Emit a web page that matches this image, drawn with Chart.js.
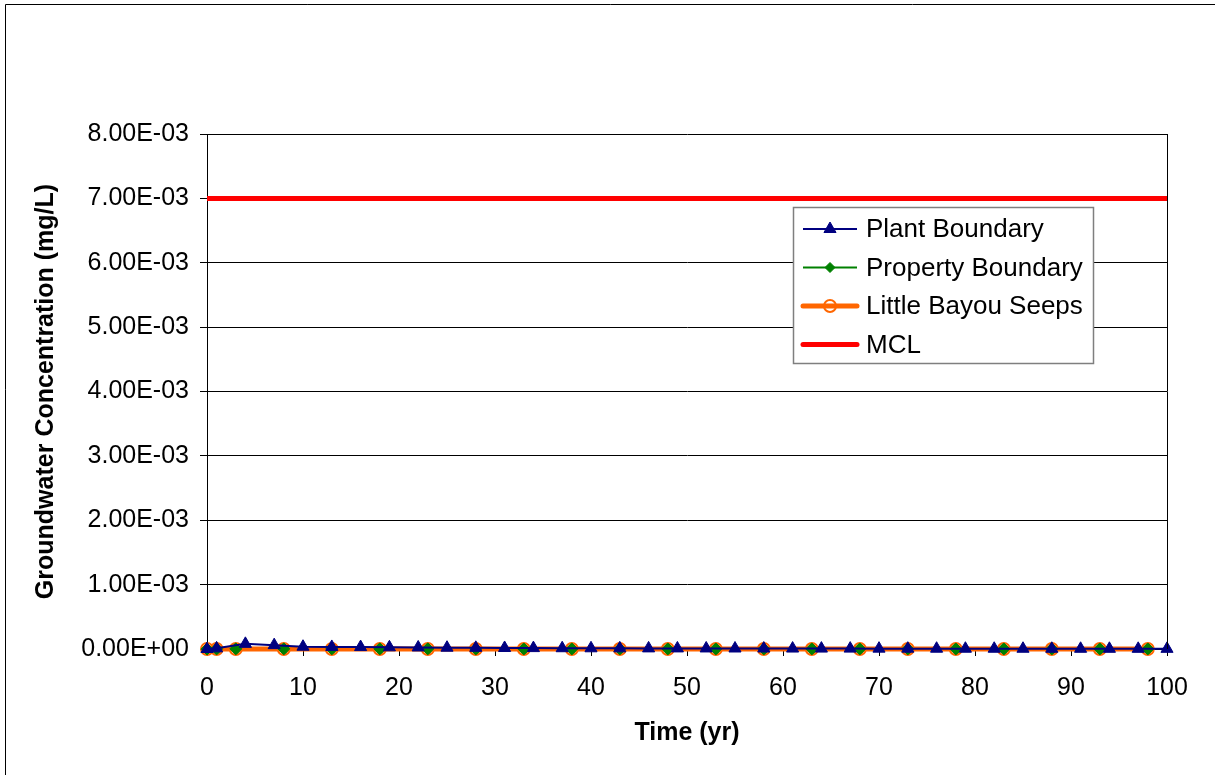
<!DOCTYPE html>
<html>
<head>
<meta charset="utf-8">
<script src="https://cdn.jsdelivr.net/npm/chart.js@4.4.0/dist/chart.umd.min.js"></script>
<style>
  body { margin: 0; background: #fff; }
  #wrap { position: relative; width: 1215px; height: 775px; }
</style>
</head>
<body>
<div id="wrap"><canvas id="chart"></canvas></div>
<script>
// data
const plantYears = [0, 1, 4, 7, 10, 13, 16, 19, 22, 25, 28, 31, 34, 37, 40, 43, 46, 49, 52, 55,
  58, 61, 64, 67, 70, 73, 76, 79, 82, 85, 88, 91, 94, 97, 100];
const plantValues = [0, 1.0e-5, 8.0e-5, 6.0e-5, 3.5e-5, 3.2e-5, 3.0e-5, 2.6e-5, 2.4e-5, 2.0e-5,
  1.8e-5, 1.6e-5, 1.4e-5, 1.2e-5, 1.1e-5, 1.0e-5, 9.5e-6, 9.0e-6, 8.5e-6, 8.0e-6,
  7.5e-6, 7.0e-6, 6.5e-6, 6.0e-6, 5.5e-6, 5.0e-6, 4.5e-6, 4.2e-6, 4.0e-6, 3.8e-6,
  3.5e-6, 3.2e-6, 3.0e-6, 2.8e-6, 2.5e-6];

const seepYears = [0, 1, 3, 8, 13, 18, 23, 28, 33, 38, 43, 48, 53, 58, 63, 68, 73, 78, 83, 88, 93, 98];
const propertyValues = [0, 1e-6, 2e-6, 2e-6, 2e-6, 2e-6, 2e-6, 1e-6, 1e-6, 1e-6, 1e-6,
  1e-6, 1e-6, 1e-6, 1e-6, 1e-6, 1e-6, 1e-6, 1e-6, 1e-6, 1e-6, 1e-6];
const seepValues = [0, 0, 1e-6, 1e-6, 1e-6, 1e-6, 1e-6, 1e-6, 1e-6, 1e-6, 1e-6,
  1e-6, 1e-6, 1e-6, 1e-6, 1e-6, 1e-6, 1e-6, 1e-6, 1e-6, 1e-6, 1e-6];

const mclYears = [0, 100];
const mclValues = [0.007, 0.007];

const yTicks = [0, 0.001, 0.002, 0.003, 0.004, 0.005, 0.006, 0.007, 0.008];

const FONT = "'Liberation Sans', Arial, sans-serif";

function pts(xs, ys) {
  return xs.map((x, i) => ({ x: x, y: ys[i] }));
}

// 8.00E-03 style labels
function sci(v) {
  if (Math.abs(v) < 1e-12) return '0.00E+00';
  let e = Math.floor(Math.log10(v) + 1e-9);
  let m = v / Math.pow(10, e);
  let s = String(Math.abs(e)).padStart(2, '0');
  return m.toFixed(2) + 'E' + (e < 0 ? '-' : '+') + s;
}

// frame, right edge of plot box, legend
const extras = {
  id: 'extras',
  afterDraw(chart) {
    const ctx = chart.ctx;
    const a = chart.chartArea;
    ctx.save();
    ctx.strokeStyle = '#000';
    ctx.lineWidth = 1;
    ctx.beginPath();
    ctx.moveTo(5.5, 775);
    ctx.lineTo(5.5, 4.5);
    ctx.lineTo(1215, 4.5);
    ctx.stroke();
    ctx.beginPath();
    ctx.moveTo(Math.round(a.right) + 0.5, a.top);
    ctx.lineTo(Math.round(a.right) + 0.5, a.bottom);
    ctx.stroke();

    // legend box
    ctx.fillStyle = '#fff';
    ctx.fillRect(793, 207, 301, 157);
    ctx.strokeStyle = '#7f7f7f';
    ctx.lineWidth = 1.5;
    ctx.strokeRect(793.5, 207.5, 300, 156);

    const items = chart.data.datasets.slice(0, 4);
    items.forEach((ds, i) => {
      const y = 229 + i * 38.5;
      ctx.strokeStyle = ds.borderColor;
      ctx.lineWidth = ds.borderWidth;
      ctx.lineCap = ds.borderWidth > 3 ? 'round' : 'butt';
      ctx.beginPath();
      ctx.moveTo(803, y);
      ctx.lineTo(857, y);
      ctx.stroke();
      if (ds.pointRadius > 0) {
        ctx.fillStyle = ds.pointBackgroundColor;
        ctx.strokeStyle = ds.pointBorderColor;
        ctx.lineWidth = ds.pointBorderWidth;
        Chart.helpers.drawPoint(ctx, {
          pointStyle: ds.pointStyle,
          radius: ds.legendRadius,
          borderWidth: ds.pointBorderWidth,
          rotation: 0
        }, 830, y);
      }
      ctx.fillStyle = '#000';
      ctx.font = '26px ' + FONT;
      ctx.textBaseline = 'middle';
      ctx.textAlign = 'left';
      ctx.fillText(ds.label, 866, y + 1);
    });
    ctx.restore();
  }
};

new Chart(document.getElementById('chart'), {
  type: 'line',
  data: {
    datasets: [
      {
        label: 'Plant Boundary',
        data: pts(plantYears, plantValues),
        borderColor: '#000080',
        backgroundColor: '#000080',
        borderWidth: 2,
        pointStyle: 'triangle',
        pointRadius: 7,
        legendRadius: 7,
        pointBackgroundColor: '#000080',
        pointBorderColor: '#000080',
        pointBorderWidth: 1,
        clip: false,
        order: 0
      },
      {
        label: 'Property Boundary',
        data: pts(seepYears, propertyValues),
        borderColor: '#008000',
        backgroundColor: '#008000',
        borderWidth: 2,
        pointStyle: 'rectRot',
        pointRadius: 6,
        legendRadius: 5,
        pointBackgroundColor: '#008000',
        pointBorderColor: '#008000',
        pointBorderWidth: 1,
        clip: false,
        order: 3
      },
      {
        label: 'Little Bayou Seeps',
        data: pts(seepYears, seepValues),
        borderColor: '#ff6600',
        backgroundColor: '#ff6600',
        borderWidth: 5,
        pointStyle: 'circle',
        pointRadius: 6,
        legendRadius: 6,
        pointBackgroundColor: 'rgba(0,0,0,0)',
        pointBorderColor: '#ff6600',
        pointBorderWidth: 2,
        clip: false,
        order: 2
      },
      {
        label: 'MCL',
        data: pts(mclYears, mclValues),
        borderColor: '#ff0000',
        backgroundColor: '#ff0000',
        borderWidth: 5,
        pointRadius: 0,
        legendRadius: 0,
        clip: false,
        order: 4
      },
      {
        // diamonds again, on top of the orange line
        label: 'Property Boundary markers',
        data: pts(seepYears, propertyValues),
        showLine: false,
        pointStyle: 'rectRot',
        pointRadius: 6,
        pointBackgroundColor: '#008000',
        pointBorderColor: '#008000',
        pointBorderWidth: 1,
        clip: false,
        order: 1
      }
    ]
  },
  options: {
    responsive: true,
    maintainAspectRatio: false,
    animation: false,
    layout: { padding: { top: 134, right: 48, left: 0, bottom: 0 } },
    plugins: {
      legend: { display: false },
      tooltip: { enabled: false }
    },
    scales: {
      x: {
        type: 'linear',
        min: 0,
        max: 100,
        afterFit: s => { s.height = 126; },
        ticks: { stepSize: 10, color: '#000', font: { family: FONT, size: 25 }, padding: 17 },
        grid: { drawOnChartArea: false, drawTicks: true, tickLength: 7, color: '#000' },
        border: { color: '#000', width: 1 },
        title: {
          display: true,
          text: 'Time (yr)',
          color: '#000',
          font: { family: FONT, size: 25, weight: 'bold' },
          padding: { top: 0, bottom: 27 }
        }
      },
      y: {
        min: 0,
        max: 0.008,
        afterFit: s => { s.width = 207; },
        afterBuildTicks: s => { s.ticks = yTicks.map(v => ({ value: v })); },
        ticks: {
          color: '#000',
          font: { family: FONT, size: 25 },
          padding: 11,
          callback: v => sci(v)
        },
        grid: { color: '#000', tickLength: 7 },
        border: { color: '#000', width: 1 },
        title: {
          display: true,
          text: 'Groundwater Concentration (mg/L)',
          color: '#000',
          font: { family: FONT, size: 25, weight: 'bold' },
          padding: { top: 31, bottom: 0 }
        }
      }
    }
  },
  plugins: [extras]
});
</script>
</body>
</html>
